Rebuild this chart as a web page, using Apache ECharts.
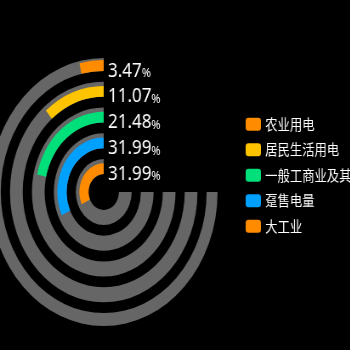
<!DOCTYPE html>
<html><head><meta charset="utf-8">
<script src="https://cdn.jsdelivr.net/npm/echarts@6/dist/echarts.min.js"></script>
<style>html,body{margin:0;padding:0;background:#000;overflow:hidden;width:350px;height:350px}
#c{width:412px;height:350px;transform:scaleX(0.85);transform-origin:0 0;}</style>
</head><body><div id="c"></div>
<script>
const categories = ['农业用电', '居民生活用电', '一般工商业及其他', '趸售电量', '大工业'];
const values = [3.47, 11.07, 21.48, 31.99, 31.99];
const colors = ['#ff8c00', '#ffc400', '#00e07a', '#00a0ff', '#ff8c00'];
const trackValue = 75;
const angleMax = 100;

const chart = echarts.init(document.getElementById('c'));
const series = [{
  type: 'bar', coordinateSystem: 'polar', name: 'track',
  data: categories.map(() => trackValue),
  barWidth: 15, barGap: '-100%', itemStyle: { color: '#666666' },
  silent: true, z: 1
}, {
  type: 'bar', coordinateSystem: 'polar', name: 'value',
  data: values.map((v, i) => ({ value: v, name: categories[i], itemStyle: { color: colors[i] } })),
  barWidth: 15, barGap: '-100%', z: 2
}];
categories.forEach((name, i) => {
  series.push({
    type: 'bar', coordinateSystem: 'polar', name: name, data: [],
    barWidth: 15, barGap: '-100%', itemStyle: { color: colors[i] }
  });
});
chart.setOption({
  backgroundColor: '#000',
  animation: false,
  polar: { center: [122, 192], radius: [5, 134] },
  angleAxis: { type: 'value', min: 0, max: angleMax, startAngle: 90, clockwise: false, show: false },
  radiusAxis: {
    type: 'category', data: categories, inverse: true,
    axisLine: { show: false }, axisTick: { show: false }, splitLine: { show: false },
    axisLabel: {
      show: true, interval: 0, margin: -5, align: 'left', verticalAlign: 'middle',
      formatter: (v) => '{a|' + values[categories.indexOf(v)].toFixed(2) + '}{b|%}',
      rich: {
        a: { fontSize: 20, color: '#ffffff', fontFamily: 'Noto Sans' },
        b: { fontSize: 13, color: '#ffffff', fontFamily: 'Noto Sans', padding: [5, 0, 0, 0] }
      }
    }
  },
  legend: {
    orient: 'vertical', left: 289, top: 117, padding: 0,
    data: categories, icon: 'roundRect',
    itemWidth: 18, itemHeight: 13, itemGap: 11,
    textStyle: { color: '#ffffff', fontSize: 14.5, fontFamily: 'Noto Sans CJK SC' }
  },
  series: series
});
</script></body></html>
